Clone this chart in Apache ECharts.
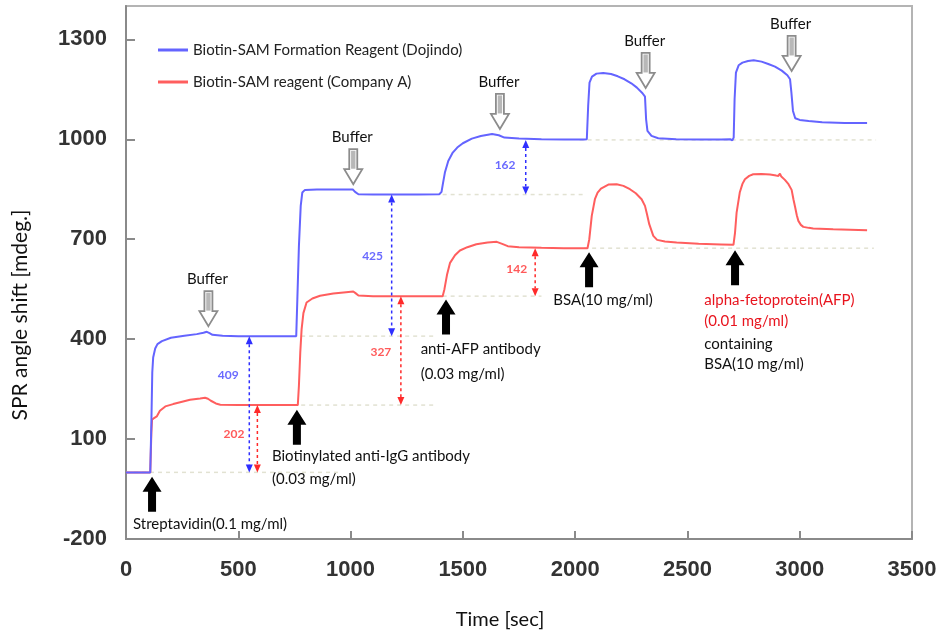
<!DOCTYPE html>
<html><head><meta charset="utf-8">
<script src="https://cdn.jsdelivr.net/npm/echarts@6/dist/echarts.min.js"></script>
<style>html,body{margin:0;padding:0;background:#fff}#c{width:941px;height:635px}</style>
</head><body><div id="c"></div>
<script>
// ---- series data (time [sec], SPR angle shift [mdeg.]) ----
const seriesNames = ['Biotin-SAM Formation Reagent (Dojindo)', 'Biotin-SAM reagent (Company A)'];
const blueTime = [0,108,113,117,121,130,140,160,200,260,315,345,360,372,385,430,500,600,700,758,763,770,778,785,797,850,950,1010,1020,1035,1100,1200,1300,1395,1405,1412,1420,1435,1455,1475,1500,1540,1580,1630,1660,1685,1750,1850,1950,2040,2052,2058,2064,2075,2095,2125,2160,2190,2220,2250,2275,2300,2311,2316,2322,2340,2370,2450,2550,2650,2690,2700,2706,2710,2716,2728,2745,2770,2795,2830,2860,2890,2920,2945,2957,2963,2970,2980,3000,3040,3100,3200,3300];
const blueValue = [0,0,150,300,345,372,385,394,404,410,415,419,422,418,413,410,409,409,409,409,520,680,800,840,848,849,849,849,842,835,834,834,834,835,842,870,900,935,960,975,988,1002,1010,1016,1012,1005,1002,1000,999,999,1000,1100,1170,1188,1197,1199,1196,1189,1180,1168,1155,1138,1128,1060,1025,1010,1003,1000,999,999,1000,997,1005,1120,1200,1222,1230,1235,1237,1233,1226,1218,1206,1192,1180,1140,1085,1063,1058,1055,1051,1049,1049];
const redTime = [0,108,113,116,125,137,151,175,210,250,285,330,352,365,378,400,420,500,600,700,765,770,776,782,790,804,830,864,923,980,1012,1022,1035,1100,1200,1300,1410,1418,1430,1443,1465,1487,1520,1560,1610,1651,1675,1700,1750,1850,1950,2055,2063,2074,2088,2100,2115,2148,2185,2215,2244,2270,2296,2311,2320,2330,2348,2365,2400,2452,2550,2650,2705,2712,2719,2733,2745,2756,2775,2793,2830,2868,2895,2905,2912,2918,2934,2950,2964,2972,2979,2987,2994,3005,3016,3040,3060,3149,3300];
const redValue = [0,0,120,158,163,168,185,198,205,212,218,222,224,221,215,207,203,202,202,202,202,260,360,430,478,510,522,530,537,541,543,538,531,529,529,529,529,550,595,629,652,666,676,685,690,692,686,679,676,674,673,673,700,770,820,840,852,864,865,860,850,838,820,800,775,745,710,698,693,690,686,684,683,720,780,840,866,880,890,895,896,894,891,890,897,888,878,865,848,820,798,772,755,743,737,734,732,730,727];

// ---- axis ticks ----
const xTickValues = [0,500,1000,1500,2000,2500,3000,3500];
const yTickValues = [-200,100,400,700,1000,1300];

// ---- faint baseline levels: value, start time, end time ----
const levelValue = [0,409,202,834,529,998,673];
const levelStart = [0,780,780,1410,1410,2020,2040];
const levelEnd   = [950,1380,1380,2050,1850,3340,3330];

// ---- response differences: time, from, to, label, label anchor ----
const diffTime  = [549,585,1183,1224,1780,1822];
const diffFrom  = [0,0,409,202,834,529];
const diffTo    = [409,202,834,529,998,673];
const diffLabel = ['409','202','425','327','162','142'];
const diffKind  = ['blue','red','blue','red','blue','red'];
const diffLabelTime  = [455,481,1098,1135,1688,1740];
const diffLabelValue = [293,116,648,362,923,610];

// ---- injections (black arrows, tip) ----
const injectTime  = [116,761,1425,2062,2712];
const injectValue = [-13,188,519,661,667];

// ---- buffer (hollow arrows, tip) ----
const bufferTime  = [367,1012,1665,2314,2964];
const bufferValue = [439,865,1031,1154,1205];

// ---- notes ----
const noteText  = ['Streptavidin(0.1 mg/ml)','Biotinylated anti-IgG antibody','(0.03 mg/ml)','anti-AFP antibody','(0.03 mg/ml)','BSA(10 mg/ml)','alpha-fetoprotein(AFP)','(0.01 mg/ml)','containing','BSA(10 mg/ml)'];
const noteTime  = [31,650,650,1312,1312,1903,2575,2575,2575,2575];
const noteValue = [-155,48,-20,371,294,516,516,453,386,324];
const noteKind  = ['black','black','black','black','black','black','red','red','black','black'];

const BLUE = '#6464ff', RED = '#ff5e5e';
const FONT = 'Lato, "Open Sans", sans-serif';

const zip = (a,b) => a.map((v,i)=>[v,b[i]]);

const chart = echarts.init(document.getElementById('c'));
chart.setOption({
  animation: false,
  backgroundColor: '#fff',
  grid: {left:126, right:29, top:6, bottom:96, show:true, borderColor:'#b4b4b4', borderWidth:2, containLabel:false},
  legend: {
    orient:'vertical', left:153, top:36, itemWidth:30, itemHeight:3, itemGap:14, icon:'rect',
    textStyle:{fontFamily:FONT, fontSize:15, color:'#222', lineHeight:18},
    data: seriesNames
  },
  xAxis: {
    type:'value', min:0, max:3500, interval:500,
    axisLine:{show:true, onZero:false, lineStyle:{color:'#8a8a8a', width:2}},
    axisTick:{show:true, inside:true, length:8, lineStyle:{color:'#8a8a8a', width:2}},
    axisLabel:{margin:20, fontFamily:'"Liberation Sans", Arial, sans-serif', fontWeight:'bold', fontSize:22, color:'#333',
      formatter: v => xTickValues.indexOf(v) >= 0 ? String(v) : ''},
    splitLine:{show:false}
  },
  yAxis: {
    type:'value', min:-200, max:1400, interval:300,
    axisLine:{show:true, onZero:false, lineStyle:{color:'#8a8a8a', width:2}},
    axisTick:{show:true, inside:true, length:9, lineStyle:{color:'#8a8a8a', width:2}},
    axisLabel:{margin:19, showMaxLabel:false, fontFamily:'"Liberation Sans", Arial, sans-serif', fontWeight:'bold', fontSize:22, color:'#333',
      formatter: v => yTickValues.indexOf(v) >= 0 ? String(v) : ''},
    splitLine:{show:false}
  },
  graphic: [
    {type:'text', x:20, y:315, rotation:Math.PI/2, style:{text:'SPR angle shift [mdeg.]', font:'21px '+FONT, fill:'#111', align:'center', verticalAlign:'middle'}},
    {type:'text', x:500, y:620, style:{text:'Time [sec]', font:'20px '+FONT, fill:'#111', align:'center', verticalAlign:'middle'}}
  ],
  series: [
    {name:seriesNames[0], type:'line', data:zip(blueTime,blueValue), showSymbol:false, symbol:'none', lineStyle:{color:BLUE, width:2}, itemStyle:{color:BLUE}, z:5},
    {name:seriesNames[1], type:'line', data:zip(redTime,redValue), showSymbol:false, symbol:'none', lineStyle:{color:RED, width:2}, itemStyle:{color:RED}, z:4},
    // faint level lines
    {type:'custom', silent:true, z:1, clip:false,
      data: levelValue.map((v,i)=>[levelStart[i], v]),
      renderItem: (p, api) => {
        const i = p.dataIndex;
        const a = api.coord([levelStart[i], levelValue[i]]), b = api.coord([levelEnd[i], levelValue[i]]);
        return {type:'line', shape:{x1:a[0],y1:a[1],x2:b[0],y2:b[1]}, style:{stroke:'#e2e2d2', lineWidth:1.5, lineDash:[4,4]}};
      }},
    // difference arrows
    {type:'custom', silent:true, z:6, clip:false,
      data: diffTime.map((t,i)=>[t, diffTo[i]]),
      renderItem: (p, api) => {
        const i = p.dataIndex;
        const top = api.coord([diffTime[i], diffTo[i]]), bot = api.coord([diffTime[i], diffFrom[i]]);
        const c = diffKind[i]==='blue' ? '#2f2fff' : '#ff2a2a';
        const lc = diffKind[i]==='blue' ? '#6a6aff' : '#ff5a5a';
        const x = top[0], h = 8, w = 3.5;
        const lab = api.coord([diffLabelTime[i], diffLabelValue[i]]);
        return {type:'group', children:[
          {type:'line', shape:{x1:x,y1:top[1]+h,x2:x,y2:bot[1]-h}, style:{stroke:c, lineWidth:1.5, lineDash:[3,3]}},
          {type:'polygon', shape:{points:[[x,top[1]],[x+w,top[1]+h],[x-w,top[1]+h]]}, style:{fill:c}},
          {type:'polygon', shape:{points:[[x,bot[1]],[x+w,bot[1]-h],[x-w,bot[1]-h]]}, style:{fill:c}},
          {type:'text', x:lab[0], y:lab[1], style:{text:diffLabel[i], font:'bold 12px '+FONT, fill:lc, align:'center', verticalAlign:'middle'}}
        ]};
      }},
    // injection arrows (black, pointing up)
    {type:'custom', silent:true, z:7, clip:false,
      data: injectTime.map((t,i)=>[t, injectValue[i]]),
      renderItem: (p, api) => {
        const q = api.coord([api.value(0), api.value(1)]);
        const x = q[0], y = q[1];
        return {type:'polygon', shape:{points:[[x,y],[x+9.5,y+15],[x+4,y+15],[x+4,y+35],[x-4,y+35],[x-4,y+15],[x-9.5,y+15]]}, style:{fill:'#000'}};
      }},
    // buffer arrows (hollow gray, pointing down) with label
    {type:'custom', silent:true, z:7, clip:false,
      data: bufferTime.map((t,i)=>[t, bufferValue[i]]),
      renderItem: (p, api) => {
        const q = api.coord([api.value(0), api.value(1)]);
        const x = q[0], y = q[1];
        return {type:'group', children:[
          {type:'polygon', shape:{points:[[x,y],[x+9,y-15],[x+4,y-15],[x+4,y-35],[x-4,y-35],[x-4,y-15],[x-9,y-15]]}, style:{fill:'#fff', stroke:'#8c8c8c', lineWidth:1.8}},
          {type:'rect', shape:{x:x-2.2, y:y-33.5, width:4.4, height:18}, style:{fill:'#b8b8b8'}},
          {type:'text', x:x-1, y:y-47, style:{text:'Buffer', font:'15px '+FONT, fill:'#111', align:'center', verticalAlign:'middle'}}
        ]};
      }},
    // notes
    {type:'custom', silent:true, z:8, clip:false,
      data: noteTime.map((t,i)=>[t, noteValue[i]]),
      renderItem: (p, api) => {
        const i = p.dataIndex;
        const q = api.coord([noteTime[i], noteValue[i]]);
        return {type:'text', x:q[0], y:q[1], style:{text:noteText[i], font:'15px '+FONT, fill: noteKind[i]==='red' ? '#e8141e' : '#111', align:'left', verticalAlign:'middle'}};
      }}
  ]
});
</script></body></html>
